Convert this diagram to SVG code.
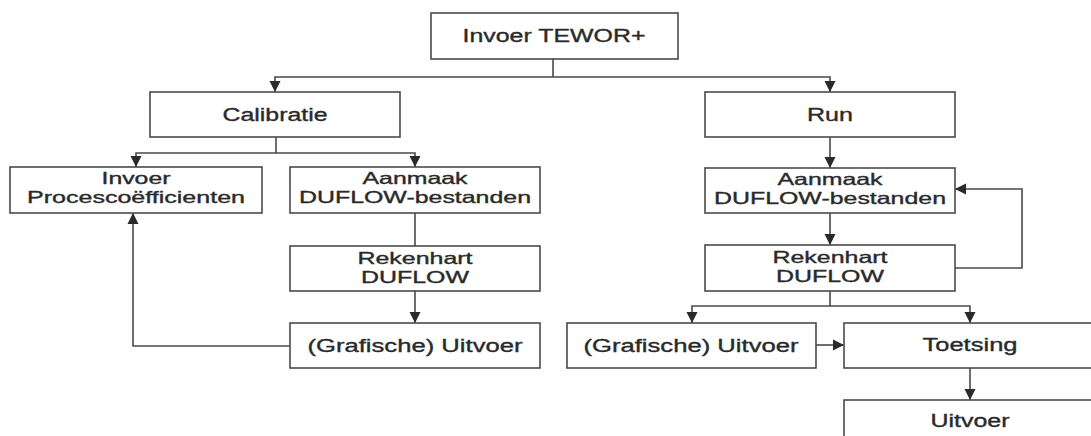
<svg xmlns="http://www.w3.org/2000/svg" width="1091" height="436" viewBox="0 0 1091 436">
  <style>
    .box { fill: #ffffff; stroke: #4a4a4a; stroke-width: 1.6; }
    .lbl { font-family: "Liberation Sans", Arial, sans-serif; font-size: 18px; fill: #2a2a2a; stroke: #2a2a2a; stroke-width: 0.35; text-anchor: middle; }
    .two { font-size: 16.5px; }
    .con { fill: none; stroke: #4a4a4a; stroke-width: 1.6; }
    .arr { marker-end: url(#ah); }
  </style>
  <defs>
    <marker id="ah" markerUnits="userSpaceOnUse" markerWidth="12" markerHeight="12" refX="11" refY="6" orient="auto">
      <path d="M0,0.5 L11,6 L0,11.5 z" fill="#2a2a2a"/>
    </marker>
  </defs>
  <rect x="0" y="0" width="1091" height="436" fill="#fefefe"/>

  <g id="connectors">
    <polyline class="con" points="553,59 553,77"/>
    <polyline class="con arr" points="553,77 275,77 275,92"/>
    <polyline class="con arr" points="553,77 830,77 830,92"/>
    <polyline class="con" points="276,137 276,153"/>
    <polyline class="con arr" points="276,153 136,153 136,167"/>
    <polyline class="con arr" points="276,153 415,153 415,167"/>
    <line class="con" x1="415" y1="213" x2="415" y2="246"/>
    <line class="con arr" x1="415" y1="291" x2="415" y2="323"/>
    <polyline class="con arr" points="290,346 133,346 133,213"/>
    <line class="con arr" x1="830" y1="137" x2="830" y2="168"/>
    <line class="con arr" x1="830" y1="213" x2="830" y2="245"/>
    <polyline class="con arr" points="955,268 1022,268 1022,189 955,189"/>
    <polyline class="con" points="830,291 830,306"/>
    <polyline class="con arr" points="830,306 692,306 692,323"/>
    <polyline class="con arr" points="830,306 970,306 970,323"/>
    <line class="con arr" x1="816" y1="345" x2="844" y2="345"/>
    <line class="con arr" x1="970" y1="368" x2="970" y2="400"/>
  </g>

  <g id="invoer-tewor">
    <rect class="box" x="431" y="13" width="247" height="46"/>
    <text class="lbl" x="554" y="42" textLength="183" lengthAdjust="spacingAndGlyphs">Invoer TEWOR+</text>
  </g>
  <g id="calibratie">
    <rect class="box" x="150" y="92" width="250" height="45"/>
    <text class="lbl" x="275" y="121" textLength="105" lengthAdjust="spacingAndGlyphs">Calibratie</text>
  </g>
  <g id="run">
    <rect class="box" x="705" y="92" width="250" height="45"/>
    <text class="lbl" x="830" y="121" textLength="46" lengthAdjust="spacingAndGlyphs">Run</text>
  </g>
  <g id="invoer-procescoefficienten">
    <rect class="box" x="10" y="167" width="252" height="46"/>
    <text class="lbl two" x="136" y="184" textLength="69" lengthAdjust="spacingAndGlyphs">Invoer</text>
    <text class="lbl two" x="136" y="203" textLength="218" lengthAdjust="spacingAndGlyphs">Procescoëfficienten</text>
  </g>
  <g id="aanmaak-left">
    <rect class="box" x="290" y="167" width="250" height="46"/>
    <text class="lbl two" x="415" y="184" textLength="105" lengthAdjust="spacingAndGlyphs">Aanmaak</text>
    <text class="lbl two" x="415" y="203" textLength="232" lengthAdjust="spacingAndGlyphs">DUFLOW-bestanden</text>
  </g>
  <g id="rekenhart-left">
    <rect class="box" x="290" y="246" width="250" height="45"/>
    <text class="lbl two" x="415" y="264" textLength="115" lengthAdjust="spacingAndGlyphs">Rekenhart</text>
    <text class="lbl two" x="415" y="283" textLength="108" lengthAdjust="spacingAndGlyphs">DUFLOW</text>
  </g>
  <g id="uitvoer-grafisch-left">
    <rect class="box" x="290" y="323" width="250" height="45"/>
    <text class="lbl" x="415" y="352" textLength="215" lengthAdjust="spacingAndGlyphs">(Grafische) Uitvoer</text>
  </g>
  <g id="aanmaak-right">
    <rect class="box" x="705" y="168" width="250" height="45"/>
    <text class="lbl two" x="830" y="185" textLength="105" lengthAdjust="spacingAndGlyphs">Aanmaak</text>
    <text class="lbl two" x="830" y="204" textLength="232" lengthAdjust="spacingAndGlyphs">DUFLOW-bestanden</text>
  </g>
  <g id="rekenhart-right">
    <rect class="box" x="705" y="245" width="250" height="46"/>
    <text class="lbl two" x="830" y="263" textLength="115" lengthAdjust="spacingAndGlyphs">Rekenhart</text>
    <text class="lbl two" x="830" y="282" textLength="108" lengthAdjust="spacingAndGlyphs">DUFLOW</text>
  </g>
  <g id="uitvoer-grafisch-right">
    <rect class="box" x="567" y="323" width="249" height="45"/>
    <text class="lbl" x="691" y="352" textLength="215" lengthAdjust="spacingAndGlyphs">(Grafische) Uitvoer</text>
  </g>
  <g id="toetsing">
    <rect class="box" x="844" y="323" width="252" height="45"/>
    <text class="lbl" x="970" y="351" textLength="95" lengthAdjust="spacingAndGlyphs">Toetsing</text>
  </g>
  <g id="uitvoer">
    <rect class="box" x="844" y="400" width="252" height="46"/>
    <text class="lbl" x="970" y="427" textLength="79" lengthAdjust="spacingAndGlyphs">Uitvoer</text>
  </g>
</svg>
